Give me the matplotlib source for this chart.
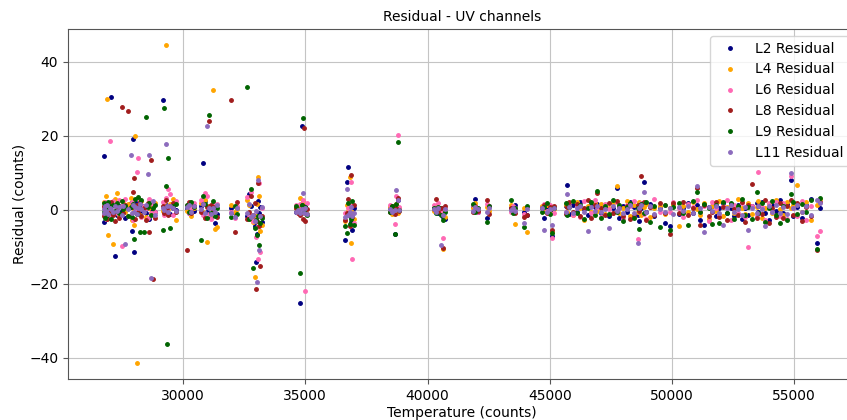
import numpy as np
import matplotlib
matplotlib.use("Agg")
import matplotlib.pyplot as plt

# temperature of each sample (counts), shared by all channels
temperature = [
    26760, 26780, 26800, 26830, 26870, 26920, 27010, 27040, 27120, 27230,
    27300, 27380, 27500, 27560, 27620, 27730, 27860, 27900, 27960, 28010,
    28050, 28110, 28160, 28230, 28300, 28410, 28470, 28580, 28620, 28690,
    28780, 28860, 29190, 29240, 29300, 29350, 29400, 29480, 29600, 29720,
    30150, 30230, 30330, 30450, 30740, 30820, 30880, 30970, 31080, 31150,
    31230, 31300, 31380, 31960, 32130, 32200, 32600, 32700, 32760, 32860,
    32940, 32980, 33020, 33060, 33100, 33150, 33220, 34620, 34700, 34790,
    34860, 34900, 34960, 35000, 35080, 36640, 36700, 36760, 36820, 36880,
    36920, 36980, 38450, 38560, 38690, 38730, 38780, 38850, 40260, 40350,
    40440, 40560, 40650, 40720, 41850, 41950, 42050, 42430, 42500, 43420,
    43480, 43560, 43950, 44050, 44700, 44780, 44900, 45000, 45090, 45180,
    45650, 45700, 45800, 45950, 46100, 46250, 46400, 46550, 46700, 46850,
    46950, 47100, 47250, 47430, 47600, 47750, 47850, 48000, 48150, 48300,
    48450, 48590, 48650, 48740, 48860, 48950, 49100, 49250, 49500, 49700,
    49900, 50050, 50270, 50450, 50660, 50850, 51010, 51150, 51320, 51500,
    51640, 51800, 51930, 52100, 52250, 52400, 52550, 52700, 52850, 53000,
    53125, 53290, 53480, 53520, 53700, 53810, 53950, 54100, 54250, 54400,
    54550, 54700, 54860, 54950, 55100, 55300, 55500, 55700, 55950, 56050,
]

l2_residual = [
    14.4, -3.2, 1.5, -1.0, 0.4, -2.1, 0.8, 30.5, -0.6, -12.5,
    -1.5, 0.9, -0.4, 1.2, -2.3, 0.5, 1.8, -5.8, 19.1, -11.4,
    2.0, 0.3, -1.2, 0.8, -0.5, 1.1, -0.9, 0.6, -2.4, 0.2,
    1.0, -0.7, 29.5, 0.4, 1.2, -0.3, 0.9, -1.1, 0.5, -0.2,
    0.6, -0.8, 1.3, -0.4, 0.9, 12.6, 2.3, -0.6, 1.0, -2.0,
    0.7, -3.6, -1.2, 0.5, -0.9, 0.4, -1.6, 4.3, 1.1, -2.2,
    -4.5, -14.2, -6.5, 2.4, -1.0, 0.8, -3.3, -0.5, 0.6, -25.3,
    22.6, 1.0, -0.7, 0.9, -1.2, -8.1, 7.6, 11.6, -1.8, -3.2,
    -5.5, 0.6, 0.4, -0.3, -6.5, 1.2, 2.5, 0.3, 0.5, -0.6,
    -0.8, 0.4, -2.0, -2.6, 0.9, 2.9, -0.5, -2.2, 1.0, 0.6,
    -0.4, 1.2, -0.7, -1.5, 0.8, -2.3, 0.5, -0.3, -7.0, 0.4,
    0.9, 6.8, -1.1, 1.4, -0.6, 2.0, 0.3, -1.3, 1.5, 0.7,
    1.6, -0.9, 0.6, -1.7, 0.4, 5.8, -2.2, 1.0, -0.5, 2.2,
    0.8, -1.4, -3.0, 0.5, 7.5, -0.7, 1.6, -1.8, 0.4, -3.6,
    -4.3, 0.9, -1.2, 0.6, 1.8, -0.8, 1.3, -2.9, -4.2, 0.7,
    1.1, -1.6, 0.5, 1.9, -0.9, 0.4, -1.8, 1.2, -2.4, 0.6,
    -1.3, 0.9, 1.7, -0.6, 2.1, -1.0, -2.8, 1.4, -0.4, 2.6,
    -0.9, 1.5, 7.9, -1.7, 0.8, -2.2, 1.2, 3.0, -9.0, 0.5,
]

l4_residual = [
    0.5, 2.1, -1.8, 3.6, 29.9, -6.8, 1.7, -0.8, -9.2, 2.8,
    4.5, -1.4, 0.9, 2.3, -0.6, 1.6, 3.1, -2.7, 0.4, -4.2,
    19.8, -41.4, 0.6, -1.5, 2.4, 0.8, -2.0, 1.3, 0.5, -1.0,
    0.7, 1.9, -0.4, 2.2, 44.5, -0.9, 0.3, 1.5, 3.0, -2.9,
    -0.3, 1.1, -1.6, 0.6, 1.8, -0.5, 2.7, -8.7, 0.9, -1.3,
    32.3, -5.2, -4.6, 1.4, -0.7, 0.3, 2.6, 1.2, -2.5, -3.4,
    -18.1, -1.7, 1.5, 8.9, 3.8, -5.8, -4.0, 0.4, 0.2, 3.3,
    1.6, 2.4, -0.8, 0.5, -1.1, -3.0, 1.2, -0.4, 8.8, -9.0,
    -0.5, -2.4, 0.7, -1.1, 0.4, 1.6, -0.8, 0.2, -0.3, 1.1,
    0.5, -0.7, -10.6, -1.9, 0.6, 1.9, 0.3, 0.8, -0.4, 1.2,
    -0.6, -3.9, 0.5, -6.1, 0.9, -0.4, 1.4, -0.9, -6.0, 0.3,
    1.3, -0.6, 0.8, -1.4, 2.0, 0.4, -2.9, 1.1, -0.7, 1.8,
    -0.3, 1.5, -1.1, 0.6, 1.9, 6.3, -0.8, 0.5, 2.4, -1.6,
    1.2, -0.5, 2.1, -1.3, 0.7, 1.6, -2.0, 0.4, 1.0, -1.2,
    0.6, 1.4, -4.4, 0.9, -0.6, 2.2, 0.3, -1.5, 1.7, -2.6,
    1.0, -0.4, 2.4, -1.7, 0.8, 1.3, -0.9, 2.8, 0.5, -1.1,
    1.9, -1.2, 0.7, 2.3, -2.1, 0.4, 1.6, -0.8, 2.5, 0.3,
    -1.5, 2.0, 0.6, 1.2, 6.7, -0.7, 2.1, -2.7, 1.4, 2.9,
]

l6_residual = [
    -1.2, 0.8, 2.2, -2.5, 1.9, 0.6, 18.5, -1.7, 2.4, 1.1,
    -0.8, 2.5, -9.7, 1.4, 3.0, -1.6, 0.7, 2.1, -2.8, 1.2,
    -0.4, 10.1, 14.0, 2.6, -1.9, 1.0, 0.4, -2.3, 2.8, -0.9,
    1.5, -0.6, 2.0, -1.3, 3.2, 0.5, 5.7, 4.2, -1.5, 2.3,
    1.4, -0.9, 0.6, 1.8, 2.6, -1.4, 4.5, 3.7, -1.1, -2.6,
    1.7, 0.9, 1.5, -0.5, -2.2, 1.0, 3.5, -1.4, 4.9, -3.0,
    -2.8, -7.4, -4.6, -13.3, 7.2, -11.5, 0.5, 1.3, -0.8, 1.6,
    0.8, 2.6, -0.5, -21.9, 1.9, -0.9, -1.5, 0.6, 1.3, 7.6,
    -13.3, -3.5, 1.2, -0.6, -3.9, 3.6, 20.1, 0.8, 1.4, 0.5,
    1.8, -0.4, -7.5, 0.2, 1.2, 0.7, -0.5, 1.5, 0.9, -0.6,
    1.1, 0.4, -1.2, 0.7, 0.5, 1.6, -0.3, 1.2, -7.6, -0.8,
    -0.5, 1.7, 0.9, -1.5, 1.1, -2.0, 2.3, 0.4, -0.9, 2.6,
    0.7, -1.9, 1.6, 0.3, -1.0, 2.0, 0.6, -2.5, 1.4, 0.9,
    2.4, -7.9, 0.5, 1.8, -1.2, -2.4, 0.8, 2.9, -0.6, 1.3,
    -0.7, 2.1, 0.4, -1.9, 1.5, 0.8, 2.7, -0.5, 1.1, -3.1,
    2.0, 0.6, -1.4, 0.9, 2.5, -2.7, 1.3, -0.8, 1.8, -2.0,
    -10.0, 1.1, -1.6, 10.1, 0.7, -2.9, 1.9, -0.6, 2.2, -1.8,
    1.7, -2.4, 9.0, 0.5, -1.6, 2.4, -2.8, 1.0, -7.0, -5.7,
]

l8_residual = [
    0.9, -1.6, -0.5, 1.3, -2.4, 1.0, -0.7, 2.0, -1.5, -3.1,
    0.6, -2.2, 27.7, -0.9, 1.2, 26.7, -1.8, 0.7, 4.7, 8.6,
    -2.6, 1.4, -0.6, 2.2, -1.8, 0.5, -2.9, 1.7, -6.1, 13.4,
    -18.7, -2.2, 1.1, -0.8, 2.6, 0.4, -1.3, 0.9, 1.8, -0.5,
    -10.8, 2.1, -1.0, 0.9, -0.6, 1.5, -2.2, 0.7, 23.9, 1.3,
    -0.4, 0.8, -1.9, 29.7, -5.9, 2.1, -2.6, -0.7, 3.7, -1.5,
    1.9, -21.4, -3.0, 7.2, -4.4, -15.1, -1.8, 0.6, -0.9, -1.3,
    1.4, -2.5, 22.1, -3.0, 0.3, -2.8, -1.0, 3.0, -4.4, 9.5,
    -1.9, 1.4, -0.5, 1.0, -1.2, 0.6, 3.3, -0.4, 0.3, 3.0,
    -0.7, 0.5, -10.3, 0.9, -0.6, 1.1, -0.4, 2.5, -1.1, 0.6,
    0.4, -0.8, -2.0, -1.3, 0.6, 1.2, -0.9, 0.7, -5.6, 1.0,
    -1.2, 0.8, 2.0, -0.7, 1.5, -1.8, 0.6, 2.5, -2.1, 1.3,
    4.5, 0.4, -1.5, 1.7, -0.9, 2.3, 0.8, -1.6, 1.0, -2.5,
    -1.6, 1.2, -0.4, 9.1, 2.0, -2.7, 0.7, -1.3, 1.9, -0.9,
    -6.5, 1.7, -0.8, 2.1, -1.4, 0.5, 5.8, -4.1, 1.2, -1.8,
    -0.6, 2.2, -1.9, 0.8, -2.8, 1.5, 0.3, -1.4, 2.0, -3.3,
    1.4, 7.0, -2.3, 0.9, -1.1, 2.7, -3.5, 0.6, -1.9, 1.8,
    -2.1, 0.9, 2.6, -1.3, 1.7, -3.0, 0.8, -1.6, -11.0, 2.2,
]

l9_residual = [
    -0.7, 1.8, -2.2, 0.5, -1.3, 2.0, 0.9, -2.6, 1.4, -0.4,
    1.7, -1.0, 2.4, 0.3, 1.1, -1.7, 0.8, -2.0, 1.5, -7.9,
    2.9, -1.1, 3.4, -5.9, 2.6, -5.9, 25.1, 0.8, 1.9, -1.4,
    0.6, 1.3, -5.5, 27.4, 6.3, -36.2, 14.0, -5.0, 0.9, 1.6,
    1.2, -0.5, 2.2, 0.8, -8.2, 3.8, 1.5, -2.1, 25.6, -0.9,
    2.4, -1.7, 0.6, -2.0, 0.9, -1.2, 33.2, -2.5, 5.6, -15.7,
    -4.8, -2.9, -6.7, -1.6, -9.5, -3.5, -2.2, 0.9, -0.4, -17.1,
    1.2, 24.9, -0.6, 0.8, -1.4, -4.5, -6.2, 1.7, -3.8, -2.6,
    2.4, -4.1, -0.7, 0.9, -6.5, 1.5, 18.3, -0.2, 0.6, -1.0,
    0.8, -1.3, -2.9, -0.5, 1.6, -0.7, 0.4, -3.2, 1.0, 2.5,
    -0.9, 0.6, -4.6, 1.1, -0.5, 0.8, 1.9, -1.2, -6.4, 0.5,
    1.8, -1.5, 0.7, 2.4, -0.9, 1.2, -2.4, 0.5, 2.1, -1.3,
    5.0, -2.1, 0.9, -1.2, 2.5, -0.6, 1.4, -3.0, 0.7, 1.9,
    -2.3, 0.6, -5.1, 1.5, -0.8, 2.2, -3.3, 0.9, -4.7, 1.4,
    -5.4, 0.7, 1.9, -1.0, -4.1, 2.4, 4.8, -0.7, 1.6, 0.4,
    -3.8, 1.3, -3.5, 2.1, -0.8, 1.7, -2.6, 0.9, 2.8, -1.5,
    0.8, -2.4, 4.9, -1.0, 1.8, -3.2, 0.6, 2.3, -1.4, -3.6,
    1.1, -2.7, 4.3, 2.0, -1.2, 1.6, -0.5, 2.7, -10.6, 3.3,
]

l11_residual = [
    0.3, -0.8, 0.9, -0.3, 1.2, -1.1, 0.5, 0.1, -0.6, 1.0,
    -0.4, 0.7, -1.3, 1.1, -9.2, 0.2, 14.7, -0.9, 1.4, -0.5,
    0.8, -1.2, 0.4, 1.6, 0.1, -0.7, 1.3, 9.6, 14.7, -18.4,
    2.4, -1.5, 0.6, -0.2, 17.8, 0.9, -0.6, 1.1, 0.4, -0.3,
    0.7, 1.3, -0.5, 0.9, 0.2, 1.5, -0.9, 22.5, 0.6, -1.1,
    0.4, -0.6, 1.2, -0.8, -1.9, 0.5, -0.9, 1.6, -2.0, -1.3,
    -3.0, -0.4, -19.4, 7.9, -10.8, -1.6, 0.7, -0.5, -0.2, -1.0,
    0.3, 4.4, -0.9, 0.5, -1.2, -2.0, 5.6, -1.3, -0.5, 0.8,
    -1.7, -0.9, 0.3, -0.5, -0.2, 5.4, 2.7, -0.1, 0.2, -0.6,
    0.5, -9.4, -1.5, 0.3, -0.4, 0.8, 0.1, -0.6, 0.4, -0.2,
    0.6, -0.3, -3.6, 0.2, 0.4, -5.4, -0.7, 0.3, -4.2, 0.5,
    -0.5, 4.2, 0.7, -0.9, 0.4, 1.0, -0.6, -5.7, 0.8, -0.3,
    0.9, -0.7, 0.3, -4.9, 1.1, -0.4, 0.6, -1.0, 0.2, 1.3,
    -0.8, -9.1, 0.5, 1.2, 4.9, -0.6, 0.9, -1.1, 0.3, -0.5,
    0.6, -1.2, 0.8, -0.3, 1.0, -0.9, 6.5, 0.4, -5.9, 0.7,
    -0.4, 0.9, -1.0, -4.1, 0.5, 1.2, -0.7, 0.3, -1.3, 0.8,
    -5.4, 0.6, -0.8, 1.1, 0.3, -4.5, 0.9, -0.5, 1.4, -0.9,
    0.7, -1.1, 9.9, 0.4, 1.3, -0.6, 0.9, -1.4, 2.6, 1.8,
]

channels = ["L2 Residual", "L4 Residual", "L6 Residual",
            "L8 Residual", "L9 Residual", "L11 Residual"]
residuals = [l2_residual, l4_residual, l6_residual,
             l8_residual, l9_residual, l11_residual]
colors = ["navy", "orange", "hotpink", "#a11d1d", "darkgreen", "#8c6bbd"]

fig = plt.figure(figsize=(8.47, 4.2), dpi=100)
# axes run slightly past the right edge of the canvas
ax = fig.add_axes([0.0803, 0.0976, 0.93, 0.8333])

temp = np.array(temperature)
for name, res, col in zip(channels, residuals, colors):
    ax.plot(temp, np.array(res), ".", color=col, markersize=5, label=name)

ax.grid(True, color="#c4c4c4", linewidth=0.8)
for side in ax.spines.values():
    side.set_color("#555555")
ax.tick_params(colors="#555555", labelcolor="black", labelsize=10)
ax.set_title("Residual - UV channels", fontsize=10)
ax.set_xlabel("Temperature (counts)", fontsize=10, labelpad=2)
ax.set_ylabel("Residual (counts)", fontsize=10, labelpad=2)
ax.legend(loc="upper right", fontsize=10)

fig.savefig("out.png", dpi=100)
